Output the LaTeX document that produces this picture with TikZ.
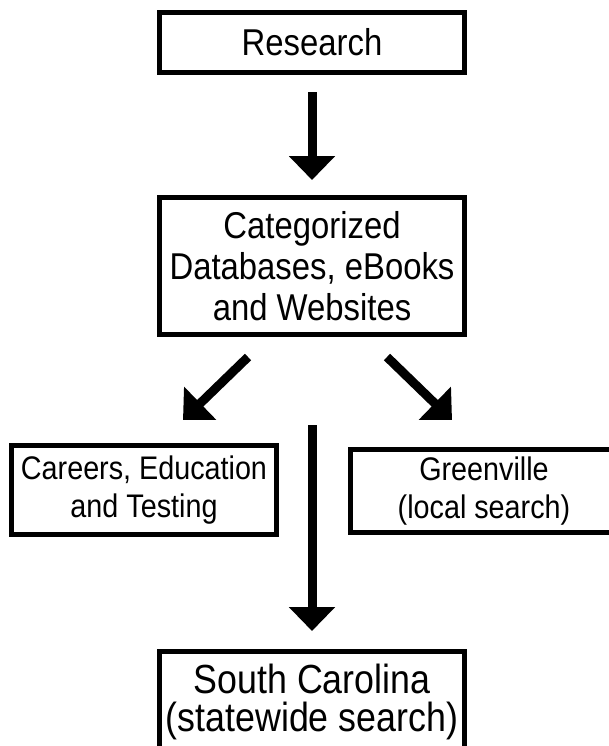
\documentclass[tikz,border=0pt]{standalone}
\usepackage{fontspec}
\setmainfont{Liberation Sans}[FakeStretch=0.88]
\usetikzlibrary{arrows.meta}

\tikzset{
	box/.style={draw, line width=3.75pt, align=center, inner sep=0pt},
	arr/.style={line width=6.75pt, -{Triangle[length=18pt, width=33.75pt]}}
}

\begin{document}
\begin{tikzpicture}[x=0.75pt, y=-0.75pt]
		\clip (0,0) rectangle (609,746);

		\node[box, minimum width=228.75pt, minimum height=45pt, font=\fontsize{28}{31}\selectfont] (research) at (312,42.5) {Research};
		\node[box, minimum width=228.75pt, minimum height=102.75pt, font=\fontsize{28}{31}\selectfont] (cat) at (312,266) {Categorized\\Databases, eBooks\\and Websites};

		\node[box, minimum width=198.75pt, minimum height=66.75pt, font=\fontsize{24.5}{29}\selectfont] (careers) at (144,490) {Careers, Education\\and Testing};
		\node[box, minimum width=200.25pt, minimum height=62.25pt, font=\fontsize{24.5}{29}\selectfont] (greenville) at (484,491) {Greenville\\(local search)};

		\node[box, minimum width=228.75pt, minimum height=75.75pt, font=\fontsize{30.5}{28}\selectfont] (sc) at (312,702) {South Carolina\\(statewide search)};

		% arrows
		\draw[arr, shorten <=12.75pt, shorten >=11.25pt] (research) -- (cat);
		\draw[arr] ([shift={(-64,20)}]cat.south) -- ([shift={(39,-23)}]careers.north);
		\draw[arr] ([shift={(75,20)}]cat.south) -- ([shift={(-32,-27)}]greenville.north);
		\draw[arr, shorten <=66pt, shorten >=13.5pt] (cat) -- (sc);
	\end{tikzpicture}
\end{document}
